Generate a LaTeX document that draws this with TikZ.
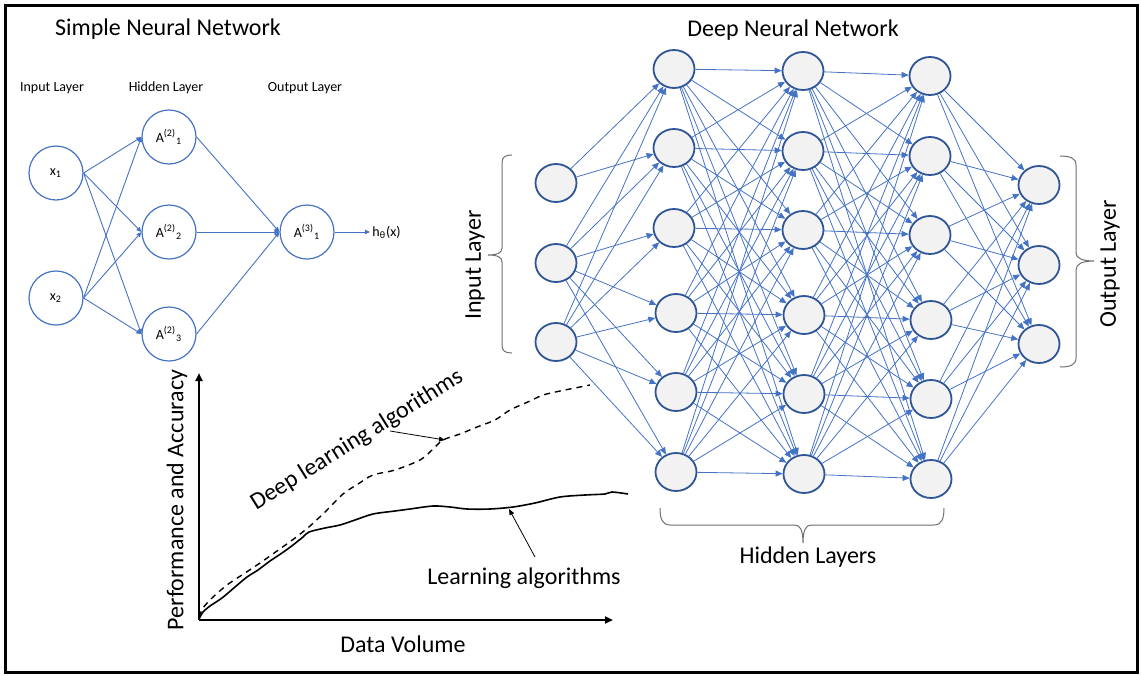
\documentclass[tikz,border=0pt]{standalone}
\usepackage{fontspec}
\setmainfont{Carlito}
\usetikzlibrary{arrows.meta,shapes.geometric}
\definecolor{netblue}{HTML}{4472C4}
\definecolor{ringblue}{HTML}{2F5597}
\definecolor{cellgray}{HTML}{F2F2F2}
\definecolor{bracegray}{HTML}{6F6F6F}

\begin{document}
\begin{tikzpicture}[x=0.5pt,y=-0.5pt]
\tikzset{unit/.style = {shape=circle, draw=netblue, line width=0.6pt, minimum size=27pt, inner sep=0pt, font=\fontsize{7}{8}\selectfont}}
\tikzset{neuron/.style = {shape=ellipse, draw=ringblue, fill=cellgray, line width=0.9pt, minimum width=20.5pt, minimum height=19pt, inner sep=0pt}}
\tikzset{edge/.style = {-{Triangle[length=2.5pt,width=2.2pt]}, netblue, line width=0.45pt}}
\tikzset{link/.style = {-{Triangle[length=3.5pt,width=3pt]}, netblue, line width=0.4pt}}
\tikzset{bigtext/.style = {font=\fontsize{12}{14}\selectfont, inner sep=1pt}}
\tikzset{smalltext/.style = {font=\fontsize{7}{8}\selectfont, inner sep=1pt}}
\tikzset{bracket/.style = {bracegray, line width=0.5pt}}
\tikzset{curve/.style = {line width=0.8pt, black}}
\tikzset{pointer/.style = {-{Triangle[length=3pt,width=2.4pt]}, line width=0.4pt}}
\tikzset{axis/.style = {-{Triangle[length=4pt,width=3.5pt]}, line width=1pt}}
\useasboundingbox (0,0) rectangle (1141,675);
\draw[line width=1.5pt] (5.5,5.5) rectangle (1137.5,672.5);

% simple network
\node[bigtext](simpletitle) at (168,29) {Simple Neural Network};
\node[smalltext](inlab) at (52,88) {Input Layer};
\node[smalltext](hidlab) at (166,88) {Hidden Layer};
\node[smalltext](outlab) at (305,88) {Output Layer};
\node[unit](x1) at (56,173) {x\textsubscript{1}};
\node[unit](x2) at (56,298) {x\textsubscript{2}};
\node[unit](h1) at (169,137) {A\textsuperscript{(2)}\textsubscript{1}};
\node[unit](h2) at (169,232) {A\textsuperscript{(2)}\textsubscript{2}};
\node[unit](h3) at (169,334) {A\textsuperscript{(2)}\textsubscript{3}};
\node[unit](y1) at (307,232) {A\textsuperscript{(3)}\textsubscript{1}};
\node[smalltext, anchor=west](hout) at (370,232) {h\textsubscript{θ}(x)};
\draw[edge] (x1.east) to (h1.west);
\draw[edge] (x1.east) to (h2.west);
\draw[edge] (x1.east) to (h3.west);
\draw[edge] (x2.east) to (h1.west);
\draw[edge] (x2.east) to (h2.west);
\draw[edge] (x2.east) to (h3.west);
\draw[edge] (h1.east) to (y1.west);
\draw[edge] (h2.east) to (y1.west);
\draw[edge] (h3.east) to (y1.west);
\draw[edge] (y1.east) to (hout.west);

% deep network
\node[bigtext](deeptitle) at (793,30) {Deep Neural Network};
\node[neuron](i1) at (556,183) {};
\node[neuron](i2) at (556,263) {};
\node[neuron](i3) at (556,342) {};
\node[neuron](a1) at (674,69) {};
\node[neuron](a2) at (674,148) {};
\node[neuron](a3) at (674,228) {};
\node[neuron](a4) at (676,313) {};
\node[neuron](a5) at (676,392) {};
\node[neuron](a6) at (676,472) {};
\node[neuron](b1) at (803,71) {};
\node[neuron](b2) at (803,151) {};
\node[neuron](b3) at (803,230) {};
\node[neuron](b4) at (804,315) {};
\node[neuron](b5) at (804,394) {};
\node[neuron](b6) at (804,474) {};
\node[neuron](c1) at (930,76) {};
\node[neuron](c2) at (930,156) {};
\node[neuron](c3) at (930,235) {};
\node[neuron](c4) at (931,320) {};
\node[neuron](c5) at (931,399) {};
\node[neuron](c6) at (931,479) {};
\node[neuron](o1) at (1039,185) {};
\node[neuron](o2) at (1039,265) {};
\node[neuron](o3) at (1039,344) {};
\draw[link] (i1) to (a1);
\draw[link] (i1) to (a2);
\foreach \s in {2,3} \foreach \t in {1,...,6} \draw[link] (i\s) to (a\t);
\foreach \s in {1,...,6} \foreach \t in {1,...,6} \draw[link] (a\s) to (b\t);
\foreach \s in {1,...,6} \foreach \t in {1,...,6} \draw[link] (b\s) to (c\t);
\foreach \s in {1,...,6} \foreach \t in {1,2,3} \draw[link] (c\s) to (o\t);

% braces
\draw[bracket] (512,155) .. controls (505,155) and (502,157) .. (502,163) -- (502,248) .. controls (502,253) and (497,255) .. (488,255) .. controls (497,255) and (502,257) .. (502,262) -- (502,345) .. controls (502,351) and (505,353) .. (512,353);
\node[bigtext, rotate=90](inbrace) at (475,265) {Input Layer};
\draw[bracket] (1060,156) .. controls (1070,156) and (1076,158) .. (1076,165) -- (1076,253) .. controls (1076,258) and (1082,261) .. (1094,261) .. controls (1082,261) and (1076,264) .. (1076,270) -- (1076,358) .. controls (1076,365) and (1070,367) .. (1060,367);
\node[bigtext, rotate=90](outbrace) at (1110,264) {Output Layer};
\draw[bracket] (660,508) .. controls (660,518) and (662,525) .. (670,525) -- (795,525) .. controls (800,525) and (803,530) .. (803,543) .. controls (803,530) and (806,525) .. (811,525) -- (934,525) .. controls (942,525) and (944,518) .. (944,508);
\node[bigtext](hidbrace) at (808,557) {Hidden Layers};

% chart
\coordinate (origin) at (199,620);
\coordinate (ytop) at (199,373);
\coordinate (xend) at (613,620);
\draw[axis] (origin) -- (ytop);
\draw[axis] (origin) -- (xend);
\node[bigtext, rotate=90](ylab) at (177,500) {Performance and Accuracy};
\node[bigtext](xlab) at (403,644) {Data Volume};
\draw[curve] plot[smooth, tension=0.5] coordinates {(199,619) (203,612) (210,606) (222,598) (235,587) (247,577) (258,570) (270,561) (282,553) (293,545) (303,537) (309,532) (325,528) (340,525) (355,520) (373,514) (395,511) (410,509) (433,506) (450,507) (467,509) (490,509) (513,507) (535,503) (560,497) (585,495) (605,494) (612,492) (628,494)};
\draw[curve, dashed, dash pattern=on 3pt off 2.5pt, line width=0.7pt] plot[smooth, tension=0.5] coordinates {(199,617) (203,608) (212,598) (227,585) (245,573) (260,563) (277,551) (295,538) (310,526) (325,512) (343,494) (358,484) (373,475) (395,470) (420,460) (432,450) (443,440) (460,434) (477,427) (495,420) (510,410) (530,401) (543,395) (560,391) (575,388) (590,385)};
\node[bigtext, rotate=32](dltext) at (357,440) {Deep learning algorithms};
\node[bigtext](mltext) at (524,578) {Learning algorithms};
\coordinate (dlfrom) at (390,431);
\coordinate (dlto) at (445,440);
\coordinate (mlfrom) at (535,557);
\coordinate (mlto) at (509,509);
\draw[pointer] (dlfrom) -- (dlto);
\draw[pointer] (mlfrom) -- (mlto);
\end{tikzpicture}
\end{document}
